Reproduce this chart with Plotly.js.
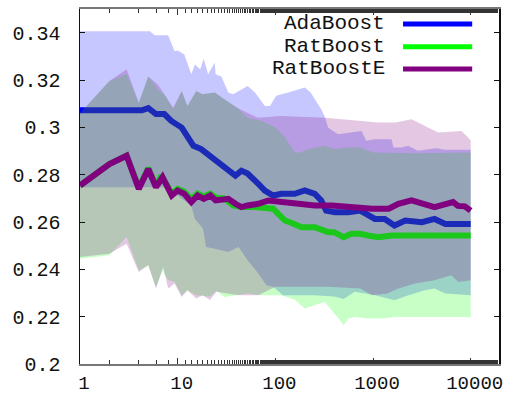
<!DOCTYPE html>
<html>
<head>
<meta charset="utf-8">
<script src="https://cdn.plot.ly/plotly-3.0.1.min.js"></script>
<style>
  html, body { margin: 0; padding: 0; background: #fff; }
  #chart { width: 509px; height: 394px; }
</style>
</head>
<body>
<div id="chart"></div>
<script>
// Series names and colours
const seriesNames = ["AdaBoost", "RatBoost", "RatBoostE"];
const seriesRGB = ["0,0,255", "0,255,0", "128,0,128"];

// AdaBoost: mean error and band edges (iterations on a log scale)
const adaMeanX = [1, 4.3, 5, 6, 7.3, 8.6, 11, 12.6, 14.5, 17.4, 21.4, 25, 30, 39, 45, 52, 67, 78, 95, 115, 158, 200, 254, 295, 331, 407, 562, 741, 1047, 1318, 1660, 2138, 3162, 4266, 5495, 10000];
const adaMean  = [0.3072, 0.3072, 0.3081, 0.3056, 0.3056, 0.3027, 0.2999, 0.2957, 0.2922, 0.2908, 0.2880, 0.2852, 0.2831, 0.2796, 0.2817, 0.2805, 0.2761, 0.2733, 0.2712, 0.2719, 0.2719, 0.2733, 0.2719, 0.2691, 0.2648, 0.2641, 0.2641, 0.2648, 0.2613, 0.2613, 0.2585, 0.2606, 0.2599, 0.2613, 0.2592, 0.2592];
const adaHiX = [1, 5.2, 5.8, 8, 9.3, 10, 11.7, 13.8, 15, 17, 18.5, 20.5, 23.9, 24.5, 28, 33, 37, 52, 62, 78, 88, 102, 135, 200, 230, 295, 324, 347, 437, 765, 851, 1047, 1549, 1622, 1950, 2291, 2884, 4467, 5500, 10000];
const adaHi  = [0.3406, 0.3406, 0.3389, 0.3389, 0.3322, 0.3325, 0.3308, 0.3224, 0.3265, 0.3245, 0.3290, 0.3224, 0.3273, 0.3224, 0.3215, 0.3147, 0.3140, 0.3175, 0.3147, 0.3090, 0.3090, 0.3133, 0.3147, 0.3168, 0.3147, 0.3076, 0.3041, 0.2999, 0.2971, 0.2985, 0.2943, 0.2950, 0.2950, 0.2915, 0.2915, 0.2922, 0.2901, 0.2912, 0.2905, 0.2905];
const adaLoX = [1, 9.3, 10, 13.8, 15, 18.2, 19.5, 24, 33, 42, 52, 67, 81, 95, 120, 250, 400, 500, 650, 1050, 1660, 2300, 3400, 4266, 5500, 10000];
const adaLo  = [0.2747, 0.2747, 0.2712, 0.2669, 0.2613, 0.2571, 0.2494, 0.2487, 0.2473, 0.2494, 0.2438, 0.2382, 0.2333, 0.2326, 0.2290, 0.2290, 0.2285, 0.2275, 0.2305, 0.2290, 0.2269, 0.2290, 0.2312, 0.2319, 0.2298, 0.2290];

// RatBoost
const ratMeanX = [1, 2, 3, 4, 5, 6, 6.8, 8.7, 10, 11.7, 13.8, 16, 18.5, 21.6, 24.5, 30, 37, 45, 62, 78, 95, 107, 126, 141, 186, 254, 347, 400, 500, 600, 740, 890, 1130, 1550, 10000];
const ratMean  = [0.2754, 0.2845, 0.2880, 0.2745, 0.2828, 0.2752, 0.2796, 0.2722, 0.2740, 0.2728, 0.2696, 0.2720, 0.2708, 0.2720, 0.2703, 0.2700, 0.2670, 0.2663, 0.2663, 0.2656, 0.2656, 0.2634, 0.2606, 0.2599, 0.2578, 0.2578, 0.2557, 0.2557, 0.2536, 0.2550, 0.2550, 0.2543, 0.2536, 0.2543, 0.2543];
const ratHiX = [1, 2, 3, 4, 5, 6.3, 7.5, 9, 11, 12.6, 15.5, 18, 24, 30, 42, 52, 73, 100, 126, 158, 180, 219, 324, 400, 550, 740, 1000, 2700, 10000];
const ratHi  = [0.3060, 0.3196, 0.3225, 0.3104, 0.3215, 0.3160, 0.3135, 0.3076, 0.3154, 0.3090, 0.3154, 0.3140, 0.3147, 0.3119, 0.3077, 0.3041, 0.3027, 0.2999, 0.2957, 0.2894, 0.2894, 0.2908, 0.2922, 0.2908, 0.2915, 0.2915, 0.2894, 0.2890, 0.2894];
const ratLoX = [1, 2, 3, 4, 5, 6, 7, 8, 9.3, 11, 12.6, 15.5, 21.4, 25, 30, 52, 70, 115, 160, 200, 320, 460, 500, 560, 650, 900, 1230, 1660, 10000];
const ratLo  = [0.2445, 0.2460, 0.2537, 0.2395, 0.2417, 0.2325, 0.2395, 0.2355, 0.2347, 0.2290, 0.2312, 0.2290, 0.2285, 0.2310, 0.2283, 0.2298, 0.2290, 0.2290, 0.2270, 0.2234, 0.2262, 0.2185, 0.2164, 0.2192, 0.2199, 0.2192, 0.2192, 0.2199, 0.2199];

// RatBoostE
const ratEMeanX = [1, 2, 3, 4, 5, 6, 7, 8.7, 10, 11.7, 13.8, 16, 18.5, 21.6, 24.5, 33, 39, 45, 52, 67, 85, 115, 170, 254, 380, 562, 650, 980, 1450, 1820, 2480, 3160, 4266, 6600, 7400, 8700, 10000];
const ratEMean  = [0.2754, 0.2845, 0.2880, 0.2740, 0.2824, 0.2747, 0.2789, 0.2712, 0.2733, 0.2719, 0.2684, 0.2712, 0.2698, 0.2712, 0.2691, 0.2698, 0.2677, 0.2663, 0.2670, 0.2677, 0.2691, 0.2684, 0.2677, 0.2670, 0.2670, 0.2663, 0.2663, 0.2656, 0.2656, 0.2677, 0.2691, 0.2677, 0.2663, 0.2684, 0.2668, 0.2666, 0.2648];
const ratEHiX = [1, 2, 3, 4, 5, 6.3, 9, 11, 12.6, 15.5, 18, 24, 30, 42, 66, 115, 324, 740, 1130, 1700, 2480, 3400, 4650, 8070, 9800, 10000];
const ratEHi  = [0.3060, 0.3196, 0.3245, 0.3104, 0.3215, 0.3180, 0.3083, 0.3154, 0.3090, 0.3154, 0.3140, 0.3147, 0.3119, 0.3080, 0.3041, 0.3048, 0.3041, 0.3027, 0.3020, 0.3020, 0.3034, 0.3006, 0.2978, 0.2985, 0.2950, 0.2945];
const ratELoX = [1, 2, 3, 4, 5, 6, 7.1, 8, 9.3, 11, 12.6, 15.5, 18, 21.4, 25, 42, 67, 100, 350, 740, 980, 1400, 1820, 2700, 4266, 6300, 7500, 10000];
const ratELo  = [0.2452, 0.2466, 0.2508, 0.2389, 0.2417, 0.2319, 0.2410, 0.2319, 0.2340, 0.2283, 0.2312, 0.2277, 0.2290, 0.2270, 0.2305, 0.2290, 0.2290, 0.2326, 0.2326, 0.2319, 0.2290, 0.2298, 0.2319, 0.2340, 0.2354, 0.2375, 0.2347, 0.2354];

// Axis ticks
const xTickVals = [1, 10, 100, 1000, 10000];
const xTickText = ["1", "10", "100", "1000", "10000"];
const yTickVals = [0.2, 0.22, 0.24, 0.26, 0.28, 0.3, 0.32, 0.34];
const yTickText = ["0.2", "0.22", "0.24", "0.26", "0.28", "0.3", "0.32", "0.34"];

const series = [
  { meanX: adaMeanX, mean: adaMean, hiX: adaHiX, hi: adaHi, loX: adaLoX, lo: adaLo },
  { meanX: ratMeanX, mean: ratMean, hiX: ratHiX, hi: ratHi, loX: ratLoX, lo: ratLo },
  { meanX: ratEMeanX, mean: ratEMean, hiX: ratEHiX, hi: ratEHi, loX: ratELoX, lo: ratELo }
];

// Each series: translucent band first, then its mean line on top,
// so later bands tint the earlier lines.
const traces = [];
series.forEach((s, i) => {
  traces.push({
    x: s.hiX.concat(s.loX.slice().reverse()),
    y: s.hi.concat(s.lo.slice().reverse()),
    mode: "lines",
    fill: "toself",
    fillcolor: "rgba(" + seriesRGB[i] + ",0.22)",
    line: { width: 0, color: "rgba(0,0,0,0)" },
    hoverinfo: "skip",
    showlegend: false
  });
  traces.push({
    x: s.meanX,
    y: s.mean,
    mode: "lines",
    name: seriesNames[i],
    line: { width: 6, color: "rgb(" + seriesRGB[i] + ")" },
    showlegend: false
  });
});

// gnuplot-style key: right-aligned text with a line sample after it
const keyY = [0.958, 0.894, 0.831];
const monoFamily = "Liberation Mono, DejaVu Sans Mono, monospace";
const annotations = seriesNames.map((n, i) => ({
  xref: "paper", yref: "paper", x: 0.733, y: keyY[i],
  xanchor: "right", yanchor: "middle", showarrow: false,
  text: n, font: { family: monoFamily, size: 21, color: "#111" }
}));
const shapes = seriesNames.map((n, i) => ({
  type: "line", xref: "paper", yref: "paper",
  x0: 0.771, x1: 0.936, y0: keyY[i], y1: keyY[i],
  line: { color: "rgb(" + seriesRGB[i] + ")", width: 5 }
}));

const yTickFont = { family: monoFamily, size: 20, color: "#111" };
const xTickFont = { family: monoFamily, size: 19, color: "#111" };

const layout = {
  width: 509, height: 394,
  margin: { l: 80, r: 10, t: 9, b: 30 },
  paper_bgcolor: "#fff", plot_bgcolor: "#fff",
  showlegend: false,
  xaxis: {
    type: "log", range: [0, 4.29],
    tickvals: xTickVals, ticktext: xTickText,
    ticks: "inside", ticklen: 6, tickcolor: "#333",
    minor: { ticks: "inside", ticklen: 4, tickcolor: "#333", showgrid: false },
    showgrid: false, zeroline: false,
    showline: true, linecolor: "#777", linewidth: 2, mirror: "ticks",
    tickfont: xTickFont, ticklabelshift: 4, ticklabelstandoff: 0
  },
  yaxis: {
    range: [0.2, 0.35],
    tickvals: yTickVals, ticktext: yTickText,
    ticks: "inside", ticklen: 5, tickcolor: "#111",
    showgrid: false, zeroline: false,
    showline: true, linecolor: "#111", linewidth: 1.5, mirror: "ticks",
    tickfont: yTickFont, ticklabelstandoff: 14
  },
  annotations: annotations,
  shapes: shapes
};

Plotly.newPlot("chart", traces, layout, { staticPlot: true, displayModeBar: false });
</script>
</body>
</html>
